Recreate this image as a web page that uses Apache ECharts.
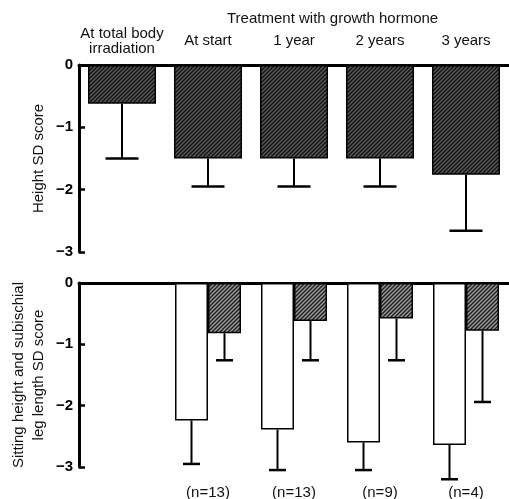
<!DOCTYPE html>
<html><head><meta charset="utf-8">
<script src="https://cdn.jsdelivr.net/npm/echarts@6/dist/echarts.min.js"></script>
<style>html,body{margin:0;padding:0;background:#fff}#c{width:509px;height:499px}</style>
</head><body><div id="c"></div>
<script>
const categories = ['At total body\nirradiation', 'At start', '1 year', '2 years', '3 years'];
const nLabels = ['', '(n=13)', '(n=13)', '(n=9)', '(n=4)'];
const yTicks = [0, -1, -2, -3];
const heightMean = [-0.62, -1.5, -1.5, -1.5, -1.76];
const heightLower = [-1.5, -1.95, -1.95, -1.95, -2.66];
const sittingMean = [null, -2.24, -2.39, -2.6, -2.64];
const sittingLower = [null, -2.95, -3.05, -3.05, -3.2];
const legMean = [null, -0.82, -0.62, -0.58, -0.78];
const legLower = [null, -1.26, -1.26, -1.26, -1.94];

function makeHatch(bg, fg, size, lw) {
  const c = document.createElement('canvas');
  c.width = c.height = size;
  const ctx = c.getContext('2d');
  ctx.fillStyle = bg; ctx.fillRect(0, 0, size, size);
  ctx.strokeStyle = fg; ctx.lineWidth = lw;
  ctx.beginPath();
  ctx.moveTo(0, size); ctx.lineTo(size, 0);
  ctx.moveTo(-size / 2, size / 2); ctx.lineTo(size / 2, -size / 2);
  ctx.moveTo(size / 2, size * 1.5); ctx.lineTo(size * 1.5, size / 2);
  ctx.stroke();
  return c;
}
const darkHatch = { image: makeHatch('#5a5a5a', '#111', 4, 1.4), repeat: 'repeat' };
const lightHatch = { image: makeHatch('#9a9a9a', '#1a1a1a', 4, 1.3), repeat: 'repeat' };

function errData(mean, lower) {
  return mean.map((m, i) => m == null ? null : [i, m, lower[i]]).filter(d => d);
}
function errRender(offset, cap) {
  return function (params, api) {
    const x = api.value(0), m = api.value(1), l = api.value(2);
    const p1 = api.coord([x, m]);
    const p2 = api.coord([x, l]);
    const cx = p1[0] + offset;
    return { type: 'group', children: [
      { type: 'line', shape: { x1: cx, y1: p1[1], x2: cx, y2: p2[1] }, style: { stroke: '#000', lineWidth: 2 } },
      { type: 'line', shape: { x1: cx - cap / 2, y1: p2[1], x2: cx + cap / 2, y2: p2[1] }, style: { stroke: '#000', lineWidth: 2.5 } }
    ] };
  };
}

const font = 'Liberation Sans, Arial, sans-serif';
const yAxisBase = {
  type: 'value', min: -3, max: 0, interval: 1,
  axisLine: { show: true, lineStyle: { color: '#000', width: 3 } },
  axisTick: { show: true, inside: true, length: 6, lineStyle: { color: '#000', width: 2.5 } },
  splitLine: { show: false },
  axisLabel: { color: '#000', fontWeight: 'bold', fontSize: 15, fontFamily: font, margin: 6,
    formatter: v => String(v).replace('-', '\u2212') },
  nameLocation: 'middle', nameRotate: 90, nameMoveOverlap: false,
  nameTextStyle: { color: '#111', fontSize: 15, fontFamily: font, lineHeight: 20 }
};

const chart = echarts.init(document.getElementById('c'));
chart.setOption({
  animation: false,
  backgroundColor: '#fff',
  graphic: [{ type: 'text', left: 227, top: 11, style: { text: 'Treatment with growth hormone', fontSize: 15, fontFamily: font, fill: '#111' } }],
  grid: [
    { left: 79, right: 0, top: 65, height: 187, outerBoundsMode: 'none', containLabel: false },
    { left: 79, right: 0, top: 283, height: 184, outerBoundsMode: 'none', containLabel: false }
  ],
  xAxis: [
    { type: 'category', gridIndex: 0, position: 'top', data: categories,
      axisLine: { show: true, lineStyle: { color: '#000', width: 3 } }, axisTick: { show: false },
      axisLabel: { color: '#111', fontSize: 15, fontFamily: font, verticalAlign: 'middle', margin: 24, lineHeight: 15, interval: 0 } },
    { type: 'category', gridIndex: 1, position: 'top', data: categories,
      axisLine: { show: true, lineStyle: { color: '#000', width: 3 } }, axisTick: { show: false }, axisLabel: { show: false } },
    { type: 'category', gridIndex: 1, position: 'bottom', data: nLabels,
      axisLine: { show: false }, axisTick: { show: false },
      axisLabel: { color: '#111', fontSize: 15, fontFamily: font, margin: 18, interval: 0 } }
  ],
  yAxis: [
    Object.assign({}, yAxisBase, { gridIndex: 0, name: 'Height SD score', nameGap: 30 }),
    Object.assign({}, yAxisBase, { gridIndex: 1, name: 'Sitting height and subischial\nleg length SD score', nameGap: 30 })
  ],
  series: [
    { type: 'bar', xAxisIndex: 0, yAxisIndex: 0, data: heightMean, barWidth: 68,
      itemStyle: { color: darkHatch, borderColor: '#000', borderWidth: 1.5 } },
    { type: 'custom', xAxisIndex: 0, yAxisIndex: 0, data: errData(heightMean, heightLower),
      renderItem: errRender(0, 33), clip: false, z: 3 },
    { type: 'bar', xAxisIndex: 1, yAxisIndex: 1, data: sittingMean, barWidth: 33, barGap: '0%',
      itemStyle: { color: '#fff', borderColor: '#000', borderWidth: 1.5 } },
    { type: 'bar', xAxisIndex: 1, yAxisIndex: 1, data: legMean, barWidth: 33, barGap: '0%',
      itemStyle: { color: lightHatch, borderColor: '#000', borderWidth: 1.5 } },
    { type: 'custom', xAxisIndex: 1, yAxisIndex: 1, data: errData(sittingMean, sittingLower),
      renderItem: errRender(-16.5, 17), clip: false, z: 3 },
    { type: 'custom', xAxisIndex: 1, yAxisIndex: 1, data: errData(legMean, legLower),
      renderItem: errRender(16.5, 17), clip: false, z: 3 }
  ]
});
</script></body></html>
